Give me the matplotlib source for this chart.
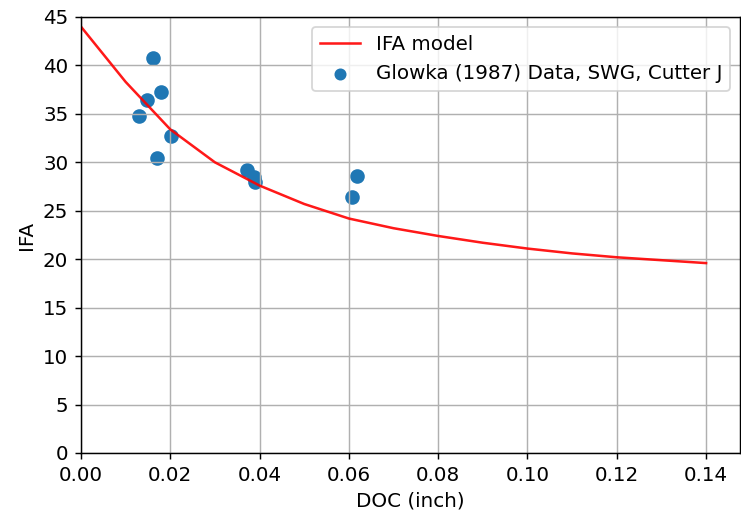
import numpy as np
import matplotlib
matplotlib.use('Agg')
from matplotlib import pyplot as plt

# IFA model curve
model_doc = [0.00, 0.01, 0.02, 0.03, 0.04, 0.05, 0.06, 0.07, 0.08, 0.09, 0.10, 0.11, 0.12, 0.13, 0.14]
model_ifa = [44.0, 38.3, 33.4, 30.0, 27.6, 25.7, 24.2, 23.2, 22.4, 21.7, 21.1, 20.6, 20.2, 19.9, 19.6]

# Glowka (1987) data
data_doc = [0.0130, 0.0148, 0.0161, 0.0170, 0.0179, 0.0202, 0.0372, 0.0388, 0.0390, 0.0607, 0.0618]
data_ifa = [34.8, 36.4, 40.8, 30.4, 37.3, 32.7, 29.2, 28.5, 28.0, 26.4, 28.6]

dpi = 130
plt.rcParams['font.size'] = 11
fig = plt.figure(figsize=(741 / dpi, 518 / dpi), dpi=dpi)
ax = fig.add_axes([81 / 741, 65 / 518, 659 / 741, 436 / 518])

ax.plot(model_doc, model_ifa, color='red', lw=1.4, alpha=0.9, label='IFA model')
ax.scatter(data_doc, data_ifa, s=50, color='#1f77b4', label='Glowka (1987) Data, SWG, Cutter J')

ax.set_xlim(0, 0.1476)
ax.set_ylim(0, 45)
ax.set_xticks(np.arange(0, 0.141, 0.02))
ax.set_yticks(np.arange(0, 46, 5))
ax.tick_params(labelsize=11)
ax.grid(True, color='#b0b0b0', lw=0.8)
ax.set_xlabel('DOC (inch)')
ax.set_ylabel('IFA')
ax.legend(loc='upper right', markerscale=0.8)

fig.savefig('out.png', dpi=dpi)
